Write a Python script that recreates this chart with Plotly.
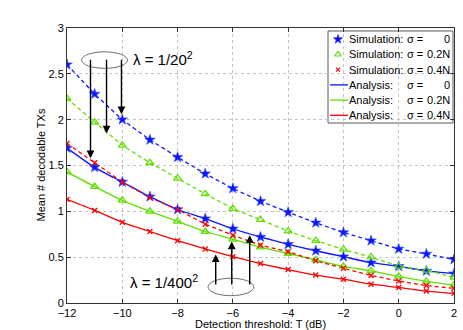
import plotly.graph_objects as go

# detection threshold T (dB)
T = [-12, -11, -10, -9, -8, -7, -6, -5, -4, -3, -2, -1, 0, 1, 2]

# lambda = 1/20^2 (dashed curves)
dense_s0 = [2.60, 2.28, 2.00, 1.78, 1.59, 1.41, 1.25, 1.11, 0.99, 0.875, 0.77, 0.68, 0.59, 0.535, 0.475]
dense_s02 = [2.23, 1.97, 1.72, 1.53, 1.36, 1.19, 1.03, 0.91, 0.785, 0.68, 0.585, 0.50, 0.40, 0.355, 0.28]
dense_s04 = [1.74, 1.53, 1.32, 1.15, 1.02, 0.86, 0.74, 0.63, 0.56, 0.46, 0.38, 0.30, 0.24, 0.19, 0.16]

# lambda = 1/400^2 (solid curves)
sparse_s0 = [1.69, 1.48, 1.32, 1.16, 1.02, 0.92, 0.81, 0.72, 0.64, 0.57, 0.505, 0.44, 0.40, 0.35, 0.32]
sparse_s02 = [1.43, 1.27, 1.12, 1.00, 0.89, 0.78, 0.695, 0.61, 0.54, 0.47, 0.40, 0.35, 0.29, 0.235, 0.195]
sparse_s04 = [1.13, 1.01, 0.88, 0.78, 0.68, 0.59, 0.505, 0.43, 0.365, 0.305, 0.26, 0.205, 0.17, 0.13, 0.105]

sigma_labels = ["0", "0.2N", "0.4N"]
colors = ["#0a14ff", "#5fe000", "#ff0000"]
symbols = ["star", "triangle-up-open", "x-thin-open"]
sizes = [8, 7, 5]

dense = [dense_s0, dense_s02, dense_s04]
sparse = [sparse_s0, sparse_s02, sparse_s04]

# plot area in pixels
L, R, TOP, BOT = 67, 454, 28, 303
W, H = 463, 330


def px(xp):
    return (xp - L) / (R - L)


def py(yp):
    return (BOT - yp) / (BOT - TOP)


fig = go.Figure()

# curves
for i in range(3):
    fig.add_trace(go.Scatter(
        x=T, y=dense[i], mode="lines",
        line=dict(color=colors[i], width=1.3, dash="4px,3px"),
        showlegend=False
    ))
    fig.add_trace(go.Scatter(
        x=T, y=sparse[i], mode="lines",
        line=dict(color=colors[i], width=1.3, shape="spline", smoothing=0.6),
        showlegend=False
    ))

# simulation markers
for i in range(3):
    mk = dict(color=colors[i], symbol=symbols[i], size=sizes[i])
    if i == 0:
        mk["line"] = dict(color="#3050ff", width=0.6)
    else:
        mk["line"] = dict(color=colors[i], width=1.3)
    fig.add_trace(go.Scatter(x=T + [None] + T, y=dense[i] + [None] + sparse[i],
                             mode="markers", marker=mk, showlegend=False))

# hand-drawn legend
row_y = [39.3 + 15.2 * k for k in range(6)]
shapes = [dict(type="rect", xref="paper", yref="paper",
               x0=px(328), x1=px(453), y0=py(123), y1=py(31),
               line=dict(color="#5a5a5a", width=1), fillcolor="white", layer="between")]
annotations = []
for i in range(3):
    mk = dict(color=colors[i], symbol=symbols[i], size=sizes[i] - 1)
    mk["line"] = dict(color=colors[i], width=1.2 if i else 0.5)
    fig.add_trace(go.Scatter(x=[px(338)], y=[py(row_y[i])], xaxis="x2", yaxis="y2",
                             mode="markers", marker=mk, showlegend=False))
    shapes.append(dict(type="line", xref="paper", yref="paper",
                       x0=px(330), x1=px(348), y0=py(row_y[i + 3]), y1=py(row_y[i + 3]),
                       line=dict(color=colors[i], width=1.3), layer="above"))
for k in range(6):
    name = "Simulation:" if k < 3 else "Analysis:"
    annotations.append(dict(xref="paper", yref="paper", x=px(348), y=py(row_y[k]),
                            text=name, showarrow=False, xanchor="left", yanchor="middle",
                            borderpad=0, font=dict(size=11, color="black")))
    annotations.append(dict(xref="paper", yref="paper", x=px(406), y=py(row_y[k]),
                            text="σ =", showarrow=False, xanchor="left", yanchor="middle",
                            borderpad=0, font=dict(size=11, color="black")))
    annotations.append(dict(xref="paper", yref="paper", x=px(451), y=py(row_y[k]),
                            text=sigma_labels[k % 3], showarrow=False, xanchor="right",
                            yanchor="middle", borderpad=0, font=dict(size=11, color="black")))

# lambda callouts: ellipses and arrows
shapes.append(dict(type="circle", xref="x", yref="y", x0=-11.47, x1=-9.81, y0=2.56, y1=2.74,
                   line=dict(color="#6e6e6e", width=1), layer="above"))
shapes.append(dict(type="circle", xref="x", yref="y", x0=-6.9, x1=-5.24, y0=0.08, y1=0.27,
                   line=dict(color="#6e6e6e", width=1), layer="above"))

arrows = [(-11.15, 1.58, 2.67), (-10.57, 1.85, 2.67), (-10.03, 2.06, 2.67),
          (-6.62, 0.53, 0.185), (-6.04, 0.67, 0.185), (-5.39, 0.74, 0.185)]
for xa, ytip, ytail in arrows:
    annotations.append(dict(x=xa, y=ytip, ax=xa, ay=ytail, xref="x", yref="y",
                            axref="x", ayref="y", text="", showarrow=True,
                            arrowhead=2, arrowsize=1.1, arrowwidth=1.4, arrowcolor="black"))

annotations.append(dict(x=-9.7, y=2.67, xref="x", yref="y", text="λ = 1/20<sup>2</sup>",
                        showarrow=False, xanchor="left", yanchor="middle",
                        font=dict(size=15, color="black")))
annotations.append(dict(x=-9.78, y=0.23, xref="x", yref="y", text="λ = 1/400<sup>2</sup>",
                        showarrow=False, xanchor="left", yanchor="middle",
                        font=dict(size=15, color="black")))

# axis titles
annotations.append(dict(xref="paper", yref="paper", x=0.5, y=py(324),
                        text="Detection threshold: T (dB)", showarrow=False,
                        xanchor="center", yanchor="middle", font=dict(size=11, color="black")))
annotations.append(dict(xref="paper", yref="paper", x=px(40), y=0.5,
                        text="Mean # decodable TXs", showarrow=False, textangle=-90,
                        xanchor="center", yanchor="middle", font=dict(size=11, color="black")))

axis_style = dict(
    showline=True, linecolor="#333333", linewidth=1, mirror="ticks",
    ticks="inside", ticklen=4, tickcolor="#333333", automargin=False,
    showgrid=True, gridcolor="#c4c4c4", griddash="dot", gridwidth=1,
    zeroline=False, tickfont=dict(size=11, color="black")
)

fig.update_layout(
    width=W, height=H,
    margin=dict(l=L, r=W - R, t=TOP, b=H - BOT),
    paper_bgcolor="white", plot_bgcolor="white",
    font=dict(family="Liberation Sans, Arial, sans-serif", size=11, color="black"),
    xaxis=dict(range=[-12, 2], dtick=2, tick0=-12, **axis_style),
    yaxis=dict(range=[0, 3], dtick=0.5, tick0=0, **axis_style),
    xaxis2=dict(overlaying="x", range=[0, 1], visible=False),
    yaxis2=dict(overlaying="y", range=[0, 1], visible=False),
    shapes=shapes,
    annotations=annotations,
    showlegend=False
)

# page body has a default 8px margin; drop it so the figure sits at the window corner
fig.write_html("out.html", config={"displayModeBar": False},
               post_script="document.body.style.margin = '0';")
